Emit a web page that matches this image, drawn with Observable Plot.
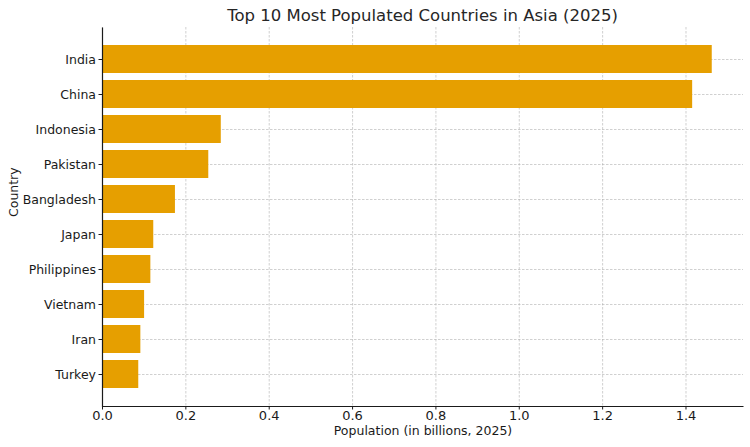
<!DOCTYPE html>
<html>
<head>
<meta charset="utf-8">
<script src="https://cdn.jsdelivr.net/npm/d3@7"></script>
<script src="https://cdn.jsdelivr.net/npm/@observablehq/plot@0.6"></script>
<style>
  html, body { margin: 0; padding: 0; background: #fff; }
  #title {
    font-family: "DejaVu Sans", sans-serif;
    font-size: 16.5px;
    color: #262626;
    height: 27px;
    line-height: 27px;
    padding-top: 2px;
    box-sizing: border-box;
    text-align: center;
    padding-left: 102px;
    padding-right: 7px;
    white-space: nowrap;
  }
  #chart svg { display: block; }
</style>
</head>
<body>
<div id="title">Top 10 Most Populated Countries in Asia (2025)</div>
<div id="chart"></div>
<script>
const countries = ["India", "China", "Indonesia", "Pakistan", "Bangladesh", "Japan", "Philippines", "Vietnam", "Iran", "Turkey"];
const population = [1.463, 1.416, 0.285, 0.255, 0.175, 0.123, 0.116, 0.101, 0.092, 0.087];
const xTicks = [0, 0.2, 0.4, 0.6, 0.8, 1.0, 1.2, 1.4];
const xLabel = "Population (in billions, 2025)";
const yLabel = "Country";

const data = countries.map((c, i) => ({country: c, value: population[i]}));

const W = 750, H = 420;
const mL = 102, mR = 7, mT = 0, mB = 41;
const fw = W - mL - mR, fh = H - mT - mB;

const chart = Plot.plot({
  width: W,
  height: H,
  marginLeft: mL,
  marginRight: mR,
  marginTop: mT,
  marginBottom: mB,
  style: {fontFamily: "DejaVu Sans, sans-serif", fontSize: "12px", color: "#1a1a1a", background: "#fff"},
  x: {domain: [0, 1.538], ticks: xTicks},
  y: {domain: countries, paddingInner: 0.2, paddingOuter: 0.49},
  marks: [
    Plot.gridX(xTicks, {stroke: "#b0b0b0", strokeOpacity: 0.75, strokeDasharray: "2.5,1.5", strokeWidth: 0.8}),
    Plot.gridY({stroke: "#b0b0b0", strokeOpacity: 0.75, strokeDasharray: "2.5,1.5", strokeWidth: 0.8}),
    Plot.barX(data, {x: "value", y: "country", fill: "#e69f00"}),
    Plot.frame({stroke: "#1a1a1a", strokeWidth: 1.2, strokeDasharray: `0 ${fw + fh} ${fw + fh + 10}`}),
    Plot.axisX(xTicks, {tickSize: 3.5, tickPadding: 1, tickFormat: d3.format(".1f"), label: null, fontSize: 13, stroke: "#1a1a1a"}),
    Plot.axisY({tickSize: 3.5, tickPadding: 3, label: null, fontSize: 12.5, stroke: "#1a1a1a"}),
    Plot.text([xLabel], {frameAnchor: "bottom", dy: 28, fontSize: 12.5, fill: "#1a1a1a"}),
    Plot.text([yLabel], {frameAnchor: "left", dx: -89, rotate: -90, fontSize: 12.5, fill: "#1a1a1a"})
  ]
});
document.getElementById("chart").appendChild(chart);
</script>
</body>
</html>
